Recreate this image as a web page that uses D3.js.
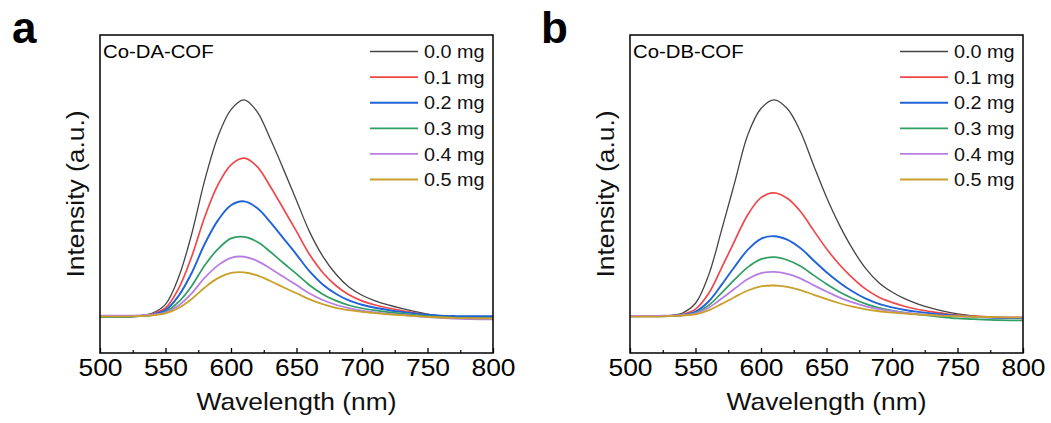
<!DOCTYPE html>
<html>
<head>
<meta charset="utf-8">
<script src="https://cdn.jsdelivr.net/npm/d3@7"></script>
<style>
  html, body { margin: 0; padding: 0; background: #fff; }
  svg { display: block; font-family: "Liberation Sans", Arial, sans-serif; }
</style>
</head>
<body>
<svg id="chart" width="1051" height="423"></svg>
<script>
// ---------------- data ----------------
const wavelengths = [500,510,520,530,540,550,560,570,580,590,600,610,620,630,640,650,660,670,680,690,700,710,720,730,740,750,760,770,780,790,800];
const seriesLabels = ["0.0 mg","0.1 mg","0.2 mg","0.3 mg","0.4 mg","0.5 mg"];
const xTicks = [500,550,600,650,700,750,800];
const xMinorTicks = [525,575,625,675,725,775];

// Panel a: Co-DA-COF
const a00 = [-0.004,-0.004,-0.003,0.002,0.015,0.055,0.180,0.380,0.630,0.830,0.955,1.000,0.945,0.820,0.680,0.535,0.390,0.278,0.195,0.135,0.097,0.071,0.052,0.036,0.022,0.010,0.001,-0.006,-0.010,-0.012,-0.012];
const a01 = [-0.004,-0.004,-0.003,0.001,0.010,0.038,0.128,0.276,0.460,0.607,0.700,0.731,0.692,0.600,0.497,0.392,0.285,0.202,0.142,0.099,0.071,0.052,0.038,0.026,0.016,0.007,0.000,-0.005,-0.008,-0.009,-0.009];
const a02 = [-0.004,-0.004,-0.003,0.001,0.007,0.028,0.094,0.200,0.335,0.443,0.513,0.531,0.500,0.435,0.360,0.285,0.207,0.147,0.104,0.073,0.053,0.039,0.029,0.020,0.013,0.007,0.003,0.001,0.000,0.000,0.000];
const a03 = [-0.003,-0.003,-0.002,0.001,0.005,0.020,0.066,0.140,0.236,0.310,0.360,0.367,0.344,0.298,0.246,0.196,0.143,0.102,0.072,0.051,0.037,0.027,0.019,0.012,0.006,0.001,-0.003,-0.006,-0.008,-0.009,-0.009];
const a04 = [0.003,0.003,0.003,0.004,0.007,0.017,0.050,0.106,0.178,0.235,0.270,0.275,0.256,0.221,0.182,0.144,0.105,0.075,0.053,0.037,0.026,0.018,0.011,0.006,0.001,-0.004,-0.008,-0.011,-0.013,-0.014,-0.014];
const a05 = [-0.002,-0.002,-0.002,0.000,0.004,0.013,0.038,0.080,0.133,0.176,0.200,0.203,0.189,0.163,0.134,0.106,0.078,0.056,0.039,0.028,0.020,0.014,0.009,0.005,0.001,-0.003,-0.006,-0.008,-0.009,-0.010,-0.010];

// Panel b: Co-DB-COF
const b00 = [0.000,0.000,0.000,0.003,0.015,0.060,0.190,0.400,0.620,0.840,0.960,1.000,0.960,0.855,0.700,0.550,0.420,0.310,0.220,0.155,0.112,0.080,0.056,0.037,0.022,0.011,0.003,-0.003,-0.008,-0.010,-0.010];
const b01 = [0.000,0.000,0.000,0.001,0.008,0.033,0.105,0.225,0.350,0.470,0.548,0.570,0.545,0.485,0.398,0.312,0.238,0.176,0.125,0.088,0.064,0.045,0.031,0.021,0.012,0.005,0.001,-0.002,-0.005,-0.006,-0.006];
const b02 = [0.000,0.000,0.000,0.001,0.005,0.021,0.068,0.146,0.230,0.308,0.358,0.370,0.354,0.315,0.259,0.203,0.155,0.114,0.081,0.057,0.041,0.029,0.020,0.013,0.007,0.002,-0.002,-0.005,-0.007,-0.008,-0.008];
const b03 = [0.000,0.000,0.000,0.001,0.004,0.016,0.050,0.108,0.170,0.227,0.264,0.273,0.260,0.232,0.190,0.149,0.112,0.082,0.057,0.039,0.026,0.016,0.008,0.001,-0.005,-0.010,-0.013,-0.016,-0.018,-0.019,-0.019];
const b04 = [0.002,0.002,0.002,0.003,0.005,0.013,0.039,0.082,0.128,0.172,0.199,0.205,0.196,0.175,0.144,0.114,0.086,0.064,0.046,0.033,0.024,0.016,0.010,0.006,0.002,-0.001,-0.003,-0.004,-0.005,-0.005,-0.005];
const b05 = [-0.002,-0.002,-0.002,0.000,0.003,0.009,0.027,0.057,0.089,0.119,0.138,0.142,0.136,0.121,0.100,0.079,0.060,0.044,0.032,0.023,0.017,0.012,0.008,0.005,0.002,0.000,-0.002,-0.003,-0.004,-0.005,-0.005];

const colors = ["#454545","#f0474a","#2063d8","#2f9e62","#b77fe3","#c9a02a"];
const widths = [1.3,1.7,1.9,1.7,1.8,1.8];

// ---------------- drawing ----------------
const svg = d3.select("#chart");

function drawPanel(opt) {
  const left = opt.left, right = opt.left + 393, top = 35, bottom = 353;
  const x = d3.scaleLinear().domain([500, 800]).range([left, right]);
  const y = d3.scaleLinear().domain([-0.17, 1.3]).range([bottom, top]);
  const g = svg.append("g");

  const clipId = "clip-" + opt.letter;
  svg.append("clipPath").attr("id", clipId)
    .append("rect").attr("x", left).attr("y", top).attr("width", right - left).attr("height", bottom - top);

  const line = d3.line()
    .x((d, i) => x(wavelengths[i]))
    .y(d => y(d))
    .curve(d3.curveCatmullRom.alpha(0.5));

  const lines = g.append("g").attr("clip-path", `url(#${clipId})`);
  opt.series.forEach((s, i) => {
    lines.append("path")
      .datum(s)
      .attr("fill", "none")
      .attr("stroke", colors[i])
      .attr("stroke-width", widths[i])
      .attr("stroke-linejoin", "round")
      .attr("d", line);
  });

  // frame
  g.append("rect")
    .attr("x", left).attr("y", top)
    .attr("width", right - left).attr("height", bottom - top)
    .attr("fill", "none").attr("stroke", "#000").attr("stroke-width", 1.5);

  // bottom axis (major ticks inward)
  const ax = g.append("g")
    .attr("transform", `translate(0,${bottom})`)
    .call(d3.axisBottom(x).tickValues(xTicks).tickSize(-5).tickPadding(6).tickFormat(d3.format("d")));
  ax.select(".domain").remove();
  ax.selectAll(".tick line").attr("stroke", "#000").attr("stroke-width", 1.3);
  ax.selectAll(".tick text")
    .attr("font-size", 24)
    .attr("font-family", "Liberation Sans, Arial, sans-serif")
    .attr("fill", "#000")
    .attr("transform", "scale(1.1,1)");
  // minor ticks
  const axm = g.append("g")
    .attr("transform", `translate(0,${bottom})`)
    .call(d3.axisBottom(x).tickValues(xMinorTicks).tickSize(-3).tickFormat(""));
  axm.select(".domain").remove();
  axm.selectAll(".tick line").attr("stroke", "#000").attr("stroke-width", 1.2);

  // axis titles
  const cx = (left + right) / 2;
  g.append("text")
    .attr("transform", `translate(${cx},410) scale(1.1,1)`)
    .attr("text-anchor", "middle")
    .attr("font-size", 24)
    .attr("fill", "#111")
    .text("Wavelength (nm)");
  g.append("text")
    .attr("transform", `translate(${left - 16},194) rotate(-90) scale(1.1,1)`)
    .attr("text-anchor", "middle")
    .attr("font-size", 24)
    .attr("fill", "#111")
    .text("Intensity (a.u.)");

  // panel letter
  g.append("text")
    .attr("x", opt.letterX).attr("y", 43)
    .attr("font-size", 44).attr("font-weight", "bold").attr("fill", "#000")
    .text(opt.letter);

  // sample name
  g.append("text")
    .attr("transform", `translate(${left + 3},58) scale(1.07,1)`)
    .attr("font-size", 19).attr("fill", "#000")
    .text(opt.name);

  // legend
  const lg = g.append("g");
  seriesLabels.forEach((lab, i) => {
    const yy = 51.5 + i * 25.6;
    lg.append("line")
      .attr("x1", left + 270).attr("x2", left + 318)
      .attr("y1", yy).attr("y2", yy)
      .attr("stroke", colors[i]).attr("stroke-width", widths[i]);
    lg.append("text")
      .attr("transform", `translate(${left + 324},${yy + 6.6}) scale(1.07,1)`)
      .attr("font-size", 18.5).attr("fill", "#111")
      .text(lab);
  });
}

drawPanel({ left: 100, letter: "a", letterX: 12, name: "Co-DA-COF", series: [a00, a01, a02, a03, a04, a05] });
drawPanel({ left: 630, letter: "b", letterX: 541, name: "Co-DB-COF", series: [b00, b01, b02, b03, b04, b05] });
</script>
</body>
</html>
